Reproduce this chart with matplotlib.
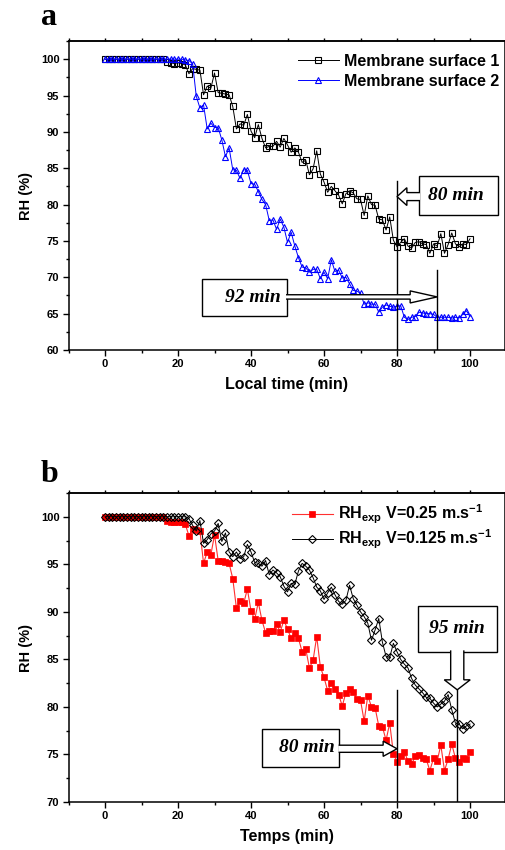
import numpy as np
import matplotlib
matplotlib.use("Agg")
from matplotlib import pyplot as plt
from matplotlib.ticker import MultipleLocator
from matplotlib.patches import Polygon, Rectangle

# ------------------------ data --------------------------------------
time_min = np.arange(0, 101)

rh_surface1 = [100.0] * 17 + [
    99.6, 99.5, 99.4, 99.5, 99.4, 99.2, 98.0, 98.7, 98.6, 98.5,
    95.1, 96.3, 96.0, 98.1, 95.4, 95.3, 95.2, 95.1, 93.5, 90.4,
    91.1, 90.9, 92.4, 90.1, 89.2, 91.0, 89.1, 87.8, 88.0, 88.0,
    88.7, 87.9, 89.1, 88.2, 87.2, 87.8, 87.2, 85.8, 86.1, 84.1,
    84.9, 87.4, 84.2, 83.1, 81.7, 82.5, 81.9, 81.3, 80.1, 81.5,
    81.9, 81.6, 80.8, 80.7, 78.5, 81.2, 80.0, 79.9, 78.0, 77.9,
    76.5, 78.3, 75.1, 74.2, 74.8, 75.3, 74.3, 74.0, 74.8, 74.9,
    74.6, 74.5, 73.3, 74.6, 74.3, 76.0, 73.3, 74.5, 76.1, 74.6,
    74.2, 74.6, 74.5, 75.3,
]

rh_surface2 = [100.0] * 22 + [
    99.9, 99.8, 99.4, 94.9, 93.3, 93.7, 90.4, 91.2, 90.6, 90.6,
    88.9, 86.6, 87.8, 84.8, 84.7, 83.6, 84.8, 84.7, 82.9, 82.8,
    81.8, 80.7, 80.0, 77.8, 77.9, 76.6, 78.0, 76.9, 74.8, 76.2,
    74.3, 72.7, 71.4, 71.3, 70.7, 71.1, 71.1, 69.8, 70.7, 69.8,
    72.4, 70.8, 71.0, 69.9, 70.0, 69.1, 68.2, 68.1, 67.8, 66.3,
    66.5, 66.3, 66.3, 65.2, 65.9, 66.2, 66.0, 65.9, 66.0, 66.1,
    64.5, 64.2, 64.5, 64.6, 65.2, 65.1, 65.0, 65.0, 64.9, 64.5,
    64.5, 64.5, 64.5, 64.4, 64.5, 64.4, 64.9, 65.4, 64.6,
]

# panel b: V=0.25 m/s is the same record as membrane surface 1
rh_v025 = list(rh_surface1)

rh_v0125 = [100.0] * 23 + [
    99.8, 99.1, 98.5, 99.6, 97.2, 97.6, 98.2, 98.5, 99.3, 97.4,
    98.3, 96.3, 95.8, 96.3, 95.6, 95.8, 97.1, 96.3, 95.2, 95.1,
    94.8, 95.4, 93.9, 94.4, 94.1, 93.7, 92.7, 92.1, 93.0, 92.9,
    94.3, 95.1, 94.8, 94.4, 93.6, 92.6, 92.2, 91.3, 92.0, 92.6,
    91.8, 91.1, 90.8, 91.2, 92.8, 91.4, 90.7, 90.0, 89.5, 88.8,
    87.0, 88.1, 89.3, 86.8, 85.3, 85.2, 86.7, 85.8, 85.0, 84.5,
    84.1, 83.0, 82.3, 81.9, 81.5, 81.0, 80.9, 80.4, 80.0, 80.3,
    80.6, 81.3, 79.7, 78.3, 78.2, 77.7, 78.0, 78.2,
]

labels_a = ["Membrane surface 1", "Membrane surface 2"]
labels_b = [r"RH$_{\rm exp}$ V=0.25 m.s$^{-1}$", r"RH$_{\rm exp}$ V=0.125 m.s$^{-1}$"]

# stabilisation times marked on the panels
mark_a = [80, 91]
mark_b = [80, 96.5]

plt.rcParams["font.family"] = ["Liberation Sans", "DejaVu Sans"]
plt.rcParams["font.weight"] = "bold"
plt.rcParams["axes.labelweight"] = "bold"
plt.rcParams["mathtext.fontset"] = "custom"
plt.rcParams["mathtext.rm"] = "Liberation Sans:bold"
plt.rcParams["mathtext.it"] = "Liberation Sans:bold"
plt.rcParams["mathtext.bf"] = "Liberation Sans:bold"

W, H = 505, 850
fig = plt.figure(figsize=(W / 100, H / 100), dpi=100)
ax_a = fig.add_axes([68.5 / W, 1 - 350 / H, 436.2 / W, 309 / H])
ax_b = fig.add_axes([68.5 / W, 1 - 802 / H, 436.2 / W, 309 / H])


def style_axes(ax, ymin, xlabel):
    ax.set_xlim(-10, 109.5)
    ax.set_ylim(ymin, 102.5)
    ax.xaxis.set_major_locator(MultipleLocator(20))
    ax.xaxis.set_minor_locator(MultipleLocator(10))
    ax.yaxis.set_major_locator(MultipleLocator(5))
    ax.yaxis.set_minor_locator(MultipleLocator(2.5))
    ax.tick_params(which="major", direction="out", length=4, width=1.0, labelsize=8, pad=2.5)
    ax.tick_params(which="minor", direction="out", length=2.2, width=1.0)
    for sp in ax.spines.values():
        sp.set_linewidth(1.1)
    top = ax.secondary_xaxis("top")
    top.xaxis.set_major_locator(MultipleLocator(10))
    top.tick_params(direction="out", length=2, width=1.0, labelsize=0, labeltop=False)
    top.spines["top"].set_linewidth(1.1)
    ax.set_ylabel("RH (%)", fontsize=10.5, labelpad=6)
    ax.set_xlabel(xlabel, fontsize=11.5, labelpad=6)


def block_arrow(ax, tail, tip, shaft_w, head_w, head_l):
    (x0, y0), (x1, y1) = tail, tip
    if y0 == y1:
        d = np.sign(x1 - x0)
        xb = x1 - d * head_l
        pts = [(x0, y0 + shaft_w / 2), (xb, y0 + shaft_w / 2), (xb, y0 + head_w / 2),
               (x1, y1), (xb, y0 - head_w / 2), (xb, y0 - shaft_w / 2), (x0, y0 - shaft_w / 2)]
    else:
        d = np.sign(y1 - y0)
        yb = y1 - d * head_l
        pts = [(x0 - shaft_w / 2, y0), (x0 - shaft_w / 2, yb), (x0 - head_w / 2, yb),
               (x1, y1), (x0 + head_w / 2, yb), (x0 + shaft_w / 2, yb), (x0 + shaft_w / 2, y0)]
    ax.add_patch(Polygon(pts, closed=False, fc="white", ec="black", lw=1.0, zorder=6))


def label_box(ax, x0, x1, y0, y1, text, tx):
    ax.add_patch(Rectangle((x0, y0), x1 - x0, y1 - y0, fc="white", ec="black", lw=1.0, zorder=5))
    ax.text(tx, (y0 + y1) / 2, text, ha="center", va="center", fontsize=14,
            family="Liberation Serif", style="italic", weight="bold", zorder=7)


# ------------------------ panel a -----------------------------------
ax_a.plot(time_min, rh_surface1, color="black", lw=0.7, marker="s", ms=4.4,
          mfc="none", mec="black", mew=0.8, label=labels_a[0])
ax_a.plot(time_min, rh_surface2, color="blue", lw=0.7, marker="^", ms=5.0,
          mfc="none", mec="blue", mew=0.8, label=labels_a[1])
style_axes(ax_a, 60, "Local time (min)")
ax_a.legend(loc="upper left", bbox_to_anchor=(0.5255, 0.958), frameon=False, fontsize=11.5,
            handlelength=2.6, handletextpad=0.3, labelspacing=0.31, borderpad=0, borderaxespad=0)

ax_a.plot([mark_a[0], mark_a[0]], [60, 83.3], color="black", lw=1.0, zorder=4)
ax_a.plot([mark_a[1], mark_a[1]], [60, 71.0], color="black", lw=1.0, zorder=4)
label_box(ax_a, 86.1, 107.8, 78.5, 84.0, "80 min", 96.0)
block_arrow(ax_a, (86.3, 81.1), (mark_a[0], 81.1), 1.1, 2.45, 2.7)
label_box(ax_a, 26.5, 49.8, 64.7, 69.75, "92 min", 40.4)
block_arrow(ax_a, (49.6, 67.3), (mark_a[1], 67.3), 0.6, 1.66, 7.4)

# ------------------------ panel b -----------------------------------
ax_b.plot(time_min, rh_v025, color="#ff3030", lw=0.8, marker="s", ms=4.3,
          mfc="red", mec="red", mew=0.5, label=labels_b[0])
ax_b.plot(time_min, rh_v0125, color="black", lw=0.7, marker="D", ms=3.9,
          mfc="none", mec="black", mew=0.8, label=labels_b[1])
style_axes(ax_b, 70, "Temps (min)")
ax_b.legend(loc="upper left", bbox_to_anchor=(0.5117, 0.968), frameon=False, fontsize=11.5,
            handlelength=2.6, handletextpad=0.3, labelspacing=0.1, borderpad=0, borderaxespad=0)

ax_b.plot([mark_b[0], mark_b[0]], [70, 81.75], color="black", lw=1.0, zorder=4)
ax_b.plot([mark_b[1], mark_b[1]], [70, 81.8], color="black", lw=1.0, zorder=4)
label_box(ax_b, 85.8, 107.5, 85.8, 90.6, "95 min", 96.4)
block_arrow(ax_b, (mark_b[1], 85.95), (mark_b[1], 81.8), 3.6, 7.1, 1.05)
label_box(ax_b, 42.9, 64.2, 73.7, 77.7, "80 min", 55.3)
block_arrow(ax_b, (64.0, 75.6), (mark_b[0], 75.6), 0.75, 1.6, 3.8)

fig.text(49.5 / W, 1 - 25 / H, "a", ha="center", va="baseline", fontsize=23,
         family="Liberation Serif", weight="bold")
fig.text(49.5 / W, 1 - 481.7 / H, "b", ha="center", va="baseline", fontsize=23,
         family="Liberation Serif", weight="bold")

plt.savefig("out.png", dpi=100)
